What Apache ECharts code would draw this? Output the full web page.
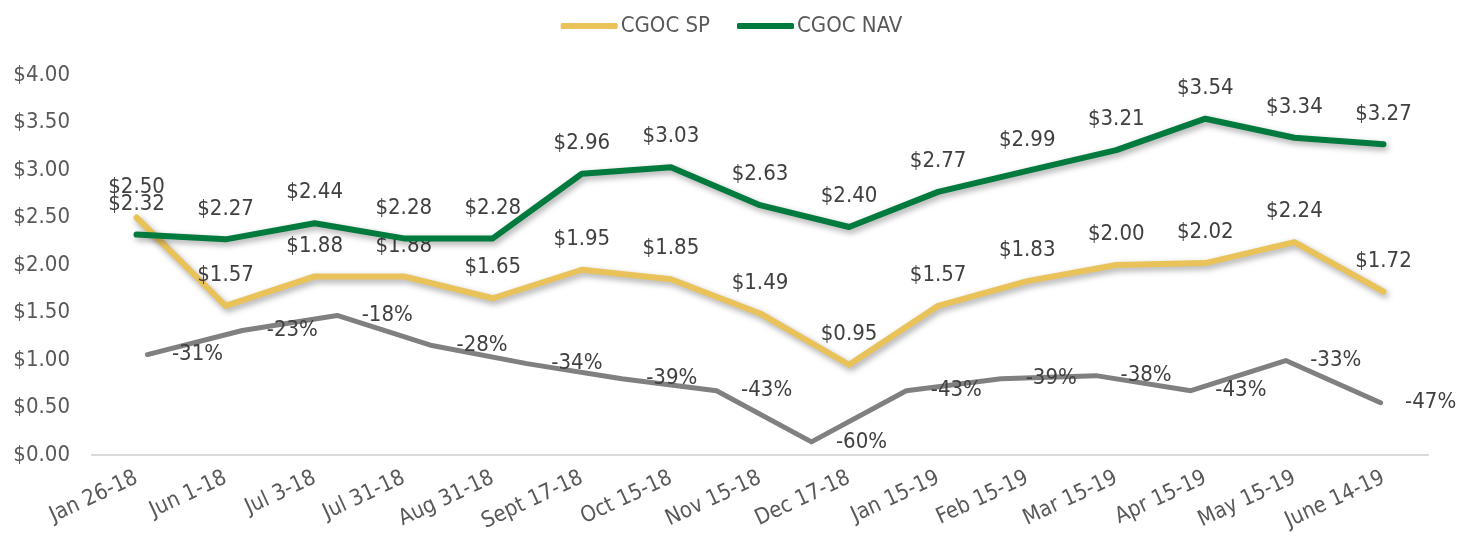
<!DOCTYPE html>
<html>
<head>
<meta charset="utf-8">
<script src="https://cdn.jsdelivr.net/npm/echarts@6/dist/echarts.min.js"></script>
<style>
html,body{margin:0;padding:0;background:#fff;}
#chart{width:1463px;height:538px;}
</style>
</head>
<body>
<div id="chart"></div>
<script>
const categories = ['Jan 26-18','Jun 1-18','Jul 3-18','Jul 31-18','Aug 31-18','Sept 17-18','Oct 15-18','Nov 15-18','Dec 17-18','Jan 15-19','Feb 15-19','Mar 15-19','Apr 15-19','May 15-19','June 14-19'];
const spValues = [2.50,1.57,1.88,1.88,1.65,1.95,1.85,1.49,0.95,1.57,1.83,2.00,2.02,2.24,1.72];
const navValues = [2.32,2.27,2.44,2.28,2.28,2.96,3.03,2.63,2.40,2.77,2.99,3.21,3.54,3.34,3.27];
const discountCategories = ['d1','d2','d3','d4','d5','d6','d7','d8','d9','d10','d11','d12','d13','d14'];
const discountValues = [-31,-23,-18,-28,-34,-39,-43,-60,-43,-39,-38,-43,-33,-47];

const FONT = 'DejaVu Sans Condensed';
const chart = echarts.init(document.getElementById('chart'), null, {renderer:'canvas'});
const shadow = {shadowColor:'rgba(0,0,0,0.35)', shadowBlur:6, shadowOffsetX:2, shadowOffsetY:3};
chart.setOption({
  animation:false,
  backgroundColor:'#ffffff',
  legend:{
    data:['CGOC SP','CGOC NAV'],
    top:10, left:'center',
    itemWidth:57, itemHeight:6, itemGap:27,
    icon:'roundRect',
    textStyle:{fontFamily:FONT, fontSize:22, color:'#595959', padding:[0,0,0,-2]}
  },
  grid:[
    {left:92, right:35, top:75, bottom:83, containLabel:false},
    {left:100, right:35, top:75, bottom:83, containLabel:false}
  ],
  xAxis:[
    {type:'category', gridIndex:0, data:categories, boundaryGap:true,
     axisLine:{lineStyle:{color:'#d9d9d9', width:2}},
     axisTick:{show:false},
     axisLabel:{rotate:25, interval:0, margin:22, fontFamily:FONT, fontSize:22, color:'#595959'}},
    {type:'category', gridIndex:1, data:discountCategories, boundaryGap:true, show:false}
  ],
  yAxis:[
    {type:'value', gridIndex:0, min:0, max:4, interval:0.5,
     axisLine:{show:false}, axisTick:{show:false}, splitLine:{show:false},
     axisLabel:{margin:22, fontFamily:FONT, fontSize:22, color:'#595959', formatter:v=>'$'+v.toFixed(2)}},
    {type:'value', gridIndex:1, min:-64.35, max:61.83, show:false, splitLine:{show:false}}
  ],
  series:[
    {name:'CGOC SP', type:'line', xAxisIndex:0, yAxisIndex:0, data:spValues,
     symbol:'circle', symbolSize:1, color:'#E9C35A',
     lineStyle:Object.assign({width:6, color:'#E9C35A', cap:'round', join:'round'}, shadow),
     label:{show:true, position:'top', distance:19, fontFamily:FONT, fontSize:22, color:'#404040', formatter:p=>'$'+p.value.toFixed(2)},
     z:3},
    {name:'CGOC NAV', type:'line', xAxisIndex:0, yAxisIndex:0, data:navValues,
     symbol:'circle', symbolSize:1, color:'#007A3D',
     lineStyle:Object.assign({width:6, color:'#007A3D', cap:'round', join:'round'}, shadow),
     label:{show:true, position:'top', distance:19, fontFamily:FONT, fontSize:22, color:'#404040', formatter:p=>'$'+p.value.toFixed(2)},
     z:4},
    {name:'Discount', type:'line', xAxisIndex:1, yAxisIndex:1, data:discountValues,
     symbol:'circle', symbolSize:1, color:'#808080',
     lineStyle:{width:5, color:'#808080', cap:'round', join:'round'},
     label:{show:true, position:'right', distance:24, fontFamily:FONT, fontSize:22, color:'#404040', formatter:p=>p.value+'%'},
     z:2}
  ]
});
</script>
</body>
</html>
